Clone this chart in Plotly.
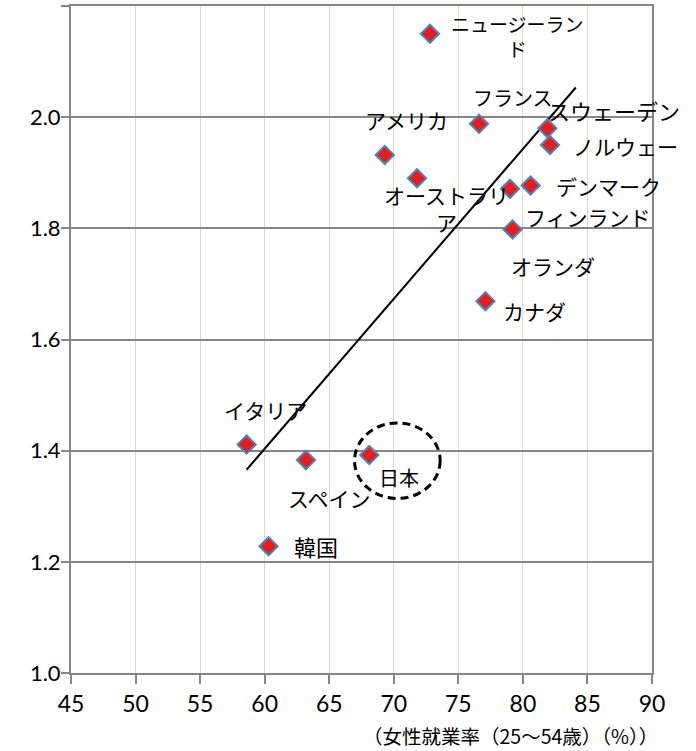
import numpy as np
import plotly.graph_objects as go

# ---- data ----
countries = ["ニュージーランド", "フランス", "スウェーデン", "ノルウェー", "アメリカ",
             "オーストラリア", "フィンランド", "デンマーク", "オランダ", "カナダ",
             "イタリア", "スペイン", "日本", "韓国"]
label_text = ["ニュージーラン<br>ド", "フランス", "スウェーデン", "ノルウェー", "アメリカ",
              "オーストラリ<br>ア", "フィンランド", "デンマーク", "オランダ", "カナダ",
              "イタリア", "スペイン", "日本", "韓国"]
female_employment = [72.8, 76.6, 81.9, 82.1, 69.3, 71.8, 79.0, 80.6, 79.2, 77.1,
                     58.6, 63.2, 68.1, 60.3]
fertility = [2.150, 1.988, 1.980, 1.950, 1.932, 1.890, 1.871, 1.877, 1.798, 1.669,
             1.411, 1.383, 1.392, 1.228]
x_ticks = [45, 50, 55, 60, 65, 70, 75, 80, 85, 90]
y_ticks = [1.0, 1.2, 1.4, 1.6, 1.8, 2.0, 2.2]
x_title = "（女性就業率（25～54歳）（%））"

# ---- style / label placement (pixel offsets from each point) ----
label_dx = [88, 34, 67, 75, 22, 29, 78, 78, 40, 49, 19, 24, 30, 47]
label_dy = [2, -26, -18, 1, -35, 30, 28, 0, 37, 10, -35, 38, 22, 0]
label_size = [19, 20, 22, 21, 21, 21, 21, 21, 21, 21, 21, 21, 20, 22]
trend_forward = 2.0

x = np.array(female_employment)
y = np.array(fertility)
slope, intercept = np.polyfit(x, y, 1)
tx = np.array([x.min(), x.max() + trend_forward])
ty = slope * tx + intercept

fig = go.Figure()
fig.add_trace(go.Scatter(x=tx, y=ty, mode="lines",
                         line=dict(color="black", width=2), hoverinfo="skip",
                         showlegend=False))
fig.add_trace(go.Scatter(x=female_employment, y=fertility, mode="markers",
                         text=countries,
                         marker=dict(symbol="diamond", size=14, color="#e31e1e",
                                     line=dict(color="#4f81bd", width=2)),
                         showlegend=False))

jfont = "Noto Sans CJK JP"
for xi, yi, t, dx, dy, fs in zip(female_employment, fertility, label_text,
                                 label_dx, label_dy, label_size):
    fig.add_annotation(x=xi, y=yi, text=t, showarrow=False, xshift=dx, yshift=-dy,
                       xanchor="center", yanchor="middle", align="center",
                       font=dict(family=jfont, size=fs, color="black"))

# dashed circle around Japan
fig.add_shape(type="circle", xref="x", yref="y", x0=66.96, x1=73.59, y0=1.314, y1=1.450,
              line=dict(color="black", width=3, dash="8px,5px"))

fig.add_annotation(x=1, y=0, xref="paper", yref="paper", text=x_title, showarrow=False,
                   xanchor="right", yanchor="middle", xshift=8, yshift=-62,
                   font=dict(family=jfont, size=19.5, color="black"))

fig.update_layout(
    width=696, height=751,
    margin=dict(l=71, r=44, t=6, b=78, autoexpand=False),
    paper_bgcolor="white", plot_bgcolor="white",
    xaxis=dict(range=[45, 90], tickvals=x_ticks, ticktext=[str(v) for v in x_ticks],
               showgrid=True, gridcolor="#ddd9c3", gridwidth=1.3,
               ticks="outside", ticklen=9, tickcolor="#868686", tickwidth=1.5,
               showline=True, linecolor="#868686", linewidth=2, mirror=True,
               zeroline=False, automargin=False,
               tickfont=dict(family="Lato", size=23, color="black")),
    yaxis=dict(range=[1.0, 2.2], tickvals=y_ticks, ticktext=[f"{v:.1f}" for v in y_ticks],
               showgrid=True, gridcolor="#868686", gridwidth=2,
               ticks="outside", ticklen=8, tickcolor="#868686", tickwidth=1.5,
               showline=True, linecolor="#868686", linewidth=2, mirror=True,
               zeroline=False, automargin=False, ticklabelstandoff=-4,
               tickfont=dict(family="Lato", size=22, color="black")),
)

fig.write_html("out.html", config={"displayModeBar": False},
               post_script="document.body.style.margin='0';")
